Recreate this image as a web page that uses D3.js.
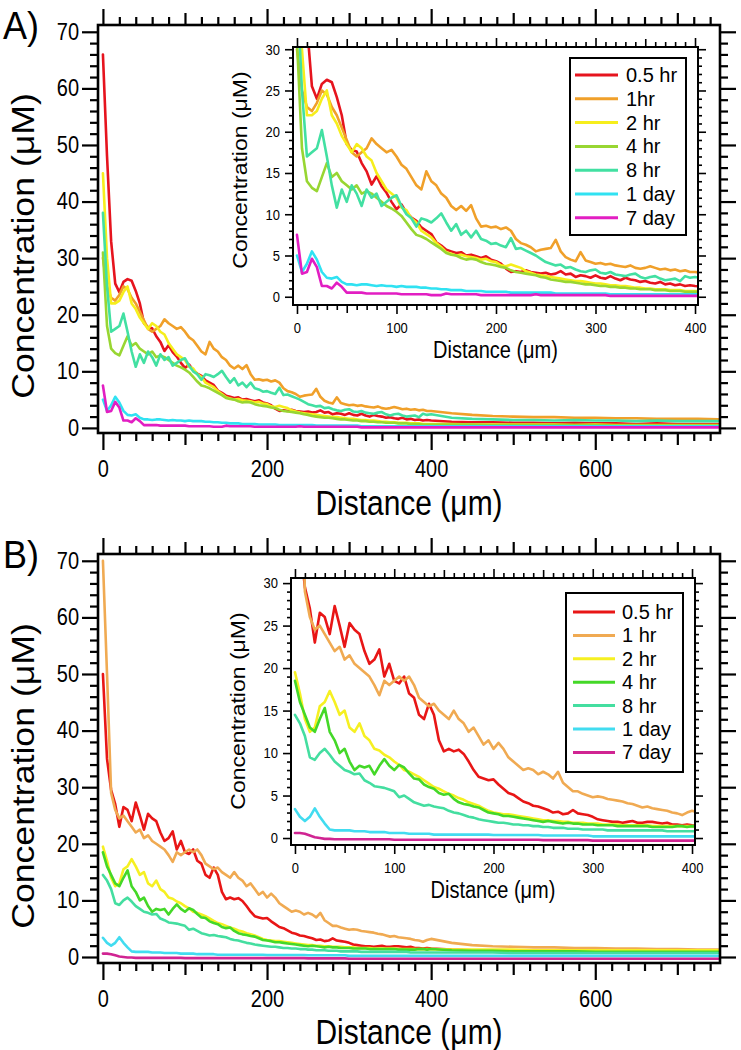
<!DOCTYPE html>
<html><head><meta charset="utf-8">
<script src="https://cdn.jsdelivr.net/npm/d3@7/dist/d3.min.js"></script>
<style>
body{margin:0;background:#fff}
svg{display:block}
</style>
</head><body>
<svg id="c" width="741" height="1050"></svg>
<script>
// ---------------- DATA ----------------
const distance = [
0,5,10,15,20,25,30,35,40,45,
50,55,60,65,70,75,80,85,90,95,
100,105,110,115,120,125,130,135,140,145,
150,155,160,165,170,175,180,185,190,195,
200,205,210,215,220,225,230,235,240,245,
250,255,260,265,270,275,280,285,290,295,
300,305,310,315,320,325,330,335,340,345,
350,355,360,365,370,375,380,385,390,395,
400,
425,450,475,500,525,550,575,600,625,650,675,700,725,750];

const namesA = ["0.5 hr","1hr","2 hr","4 hr","8 hr","1 day","7 day"];
const namesB = ["0.5 hr","1 hr","2 hr","4 hr","8 hr","1 day","7 day"];

const A_05hr = [
66,48,33,25.5,24,25.8,26.3,26,24.2,22,
18.5,17.8,17.6,16.2,15.2,13.6,14.6,13.4,12.6,11.5,
10.6,11.2,10.2,9.6,9.2,8.4,8.0,7.6,6.6,6.2,
5.7,5.5,5.3,5.4,5.0,5.1,4.9,4.7,4.9,4.5,
4.3,4.0,3.4,3.0,3.1,3.0,3.2,3.0,2.9,2.8,
2.9,2.7,2.8,3.1,2.7,2.8,2.4,2.6,2.5,2.3,
2.6,2.3,2.2,2.5,2.2,2.0,2.3,2.1,2.0,1.8,
1.9,1.7,1.6,1.8,1.5,1.6,1.4,1.5,1.3,1.4,
1.3,
1.1,1.0,1.0,0.9,0.9,0.8,0.9,0.8,0.8,0.7,0.8,0.7,0.7,0.7];
const A_1hr = [
30,25,23,22.5,23.5,25,24.5,23,22,20.5,
19,17.5,17,17.5,18,19.2,18.5,18,17.5,17.8,
17,16,15.5,14.5,13.5,13,15.2,14,13.5,12.5,
12,11,10.5,11,10.4,11.1,9.5,8.5,8.6,8.4,
8.5,8.2,8.4,8.0,7.0,6.5,6.3,6.0,5.5,5.7,
5.8,5.9,6.9,5.5,4.8,4.5,4.3,5.4,4.4,4.2,
4.0,4.1,3.9,4.0,3.8,3.7,3.6,3.8,3.5,3.4,
3.5,3.7,3.5,3.3,3.4,3.2,3.3,3.1,3.2,3.0,
3.0,
2.6,2.3,2.1,2.0,1.9,1.9,1.8,1.8,1.7,1.7,1.6,1.6,1.6,1.5];
const A_2hr = [
45,30,22,22,22.5,24,25,22,21,19.5,
18.5,17.5,18.5,18,17,16.5,15,14,13,12.5,
12,10.8,10.5,9.5,9.0,8.0,7.6,7.2,6.5,6.0,
5.4,5.2,5.0,5.1,4.9,4.8,4.7,4.5,4.6,4.3,
4.2,3.8,3.7,3.9,3.7,3.5,3.1,2.9,2.7,2.6,
2.5,2.4,2.3,2.2,2.1,2.0,1.9,1.9,1.8,1.7,
1.6,1.6,1.5,1.4,1.4,1.3,1.3,1.2,1.1,1.1,
1.0,1.0,0.9,0.9,0.9,0.8,0.8,0.8,0.7,0.7,
0.7,
0.7,0.6,0.6,0.6,0.6,0.6,0.5,0.6,0.5,0.5,0.5,0.5,0.5,0.5];
const A_4hr = [
31,18,14,13.2,12.8,14.5,16.2,14.5,15,14,
13.5,13,13.5,12.5,12.8,12.5,12,11.5,11,10.7,
10.3,9.8,9.0,8.2,7.5,7.3,7.0,6.6,6.2,5.8,
5.3,5.1,5.0,4.7,4.5,4.6,4.5,4.2,4.0,3.9,
3.8,3.6,3.5,3.2,3.0,2.9,2.8,2.7,2.6,2.4,
2.3,2.1,2.0,1.9,1.8,1.8,1.7,1.6,1.5,1.5,
1.4,1.3,1.3,1.2,1.2,1.1,1.1,1.0,1.0,0.9,
0.9,0.9,0.8,0.8,0.8,0.7,0.7,0.7,0.6,0.6,
0.6,
0.6,0.6,0.5,0.5,0.5,0.5,0.5,0.5,0.4,0.4,0.4,0.4,0.4,0.4];
const A_8hr = [
38,25,17,17.5,18,20.2,17,13.5,10.8,13,
11.5,13.5,12.5,11,13,12,12.5,11,11.5,12,
12.3,11,10,9.5,8.5,9.5,9.3,9.0,9.5,10.1,
9.0,8.0,8.8,7.5,8.0,7.2,8.0,7.0,6.8,6.4,
6.5,6.2,6.0,7.1,5.8,5.9,5.6,5.3,5.0,4.6,
4.2,4.0,3.8,3.9,3.5,3.6,3.3,3.1,3.0,3.2,
3.3,2.9,2.8,3.0,2.7,2.6,2.5,2.7,2.8,2.4,
2.2,2.4,2.5,2.2,2.0,2.1,2.2,1.9,2.5,2.3,
2.4,
1.8,1.6,1.5,1.4,1.4,1.3,1.4,1.3,1.3,1.2,1.3,1.2,1.2,1.2];
const A_1day = [
5,3,4,5.5,4.5,3,2.3,2.2,2.4,1.8,
1.5,1.5,1.4,1.5,1.5,1.4,1.3,1.4,1.3,1.3,
1.2,1.3,1.2,1.2,1.2,1.1,1.1,1.0,1.0,0.9,
0.9,0.8,0.8,0.8,0.7,0.7,0.7,0.7,0.6,0.6,
0.6,0.6,0.6,0.5,0.5,0.5,0.5,0.5,0.5,0.5,
0.5,0.5,0.4,0.4,0.4,0.4,0.4,0.4,0.4,0.4,
0.4,0.4,0.4,0.3,0.3,0.3,0.3,0.3,0.3,0.3,
0.3,0.3,0.3,0.3,0.3,0.3,0.3,0.3,0.3,0.3,
0.3,
0.3,0.3,0.3,0.3,0.3,0.3,0.3,0.3,0.3,0.3,0.3,0.3,0.3,0.3];
const A_7day = [
7.5,2.8,3.0,4.6,3.6,1.3,1.3,1.0,1.7,1.2,
0.5,0.5,0.5,0.5,0.4,0.4,0.4,0.4,0.4,0.4,
0.4,0.3,0.3,0.3,0.3,0.3,0.3,0.2,0.2,0.2,
0.4,0.3,0.3,0.3,0.3,0.3,0.3,0.2,0.2,0.2,
0.2,0.2,0.2,0.2,0.2,0.2,0.2,0.2,0.3,0.2,
0.2,0.2,0.2,0.2,0.2,0.2,0.2,0.2,0.2,0.2,
0.2,0.2,0.2,0.1,0.1,0.1,0.1,0.1,0.1,0.1,
0.1,0.1,0.1,0.1,0.1,0.1,0.1,0.1,0.1,0.1,
0.1,
0.1,0.1,0.1,0.1,0.1,0.1,0.1,0.1,0.1,0.1,0.1,0.1,0.1,0.1];

const B_05hr = [
50,35,29.5,27,23,26.5,26,24,27.3,25,
22.5,25.3,24.5,24,22,20.5,21,22.2,19,20.5,
18.5,18.2,19,17,16.5,14.5,14.0,15.8,14.5,11.5,
10.2,10.5,10.2,10.4,9.9,9.0,8.0,7.2,7.0,6.8,
6.9,6.3,5.8,5.3,5.1,4.7,4.3,4.1,3.8,3.7,
3.5,3.3,3.0,3.1,2.8,2.9,3.3,2.9,2.8,2.7,
2.5,2.2,2.1,2.0,1.9,1.9,1.8,1.9,2.0,1.8,
1.8,1.9,1.9,1.8,1.7,1.8,1.6,1.6,1.5,1.6,
1.5,
1.3,1.2,1.1,1.1,1.0,1.0,1.0,0.9,0.9,0.9,0.9,0.8,0.8,0.8];
const B_1hr = [
70,50,29,26,24.5,25,24,23,22,22.5,
21,21.5,20.5,20,19.5,19,18,16.8,18.5,18,
18.5,19,18.5,19,18,16.5,16,15.5,15.8,15,
14.5,14,15,14,13.5,12.5,13,12,11,11.5,
10.5,11.2,10.5,9.5,9,8.5,8,8.2,8,7.5,
7.8,7.5,7,7.8,6.5,6,5.5,5.5,5.2,5,
4.8,4.9,4.8,4.6,4.5,4.4,4.3,4.1,4,3.8,
3.6,3.7,3.5,3.4,3.3,3.2,3.0,2.9,2.7,3.0,
3.2,
2.5,2.1,1.9,1.8,1.7,1.7,1.6,1.6,1.5,1.5,1.4,1.4,1.3,1.3];
const B_2hr = [
19.5,17,14,12.5,13,15.5,16,17.3,16,14.5,
15,13,12.5,13.5,12,11.5,10.5,10.3,9.8,9.5,
9.0,8.6,8.0,7.8,7.5,7.2,6.8,6.4,6.0,5.8,
5.5,5.2,5.0,4.7,4.5,4.2,4.0,3.8,3.5,3.2,
3.0,2.9,2.8,2.8,2.7,2.6,2.5,2.4,2.3,2.2,
2.1,2.1,2.0,2.0,1.9,1.9,1.8,1.8,1.8,1.7,
1.7,1.7,1.6,1.6,1.6,1.6,1.5,1.5,1.5,1.5,
1.5,1.5,1.4,1.4,1.4,1.4,1.4,1.4,1.4,1.4,
1.4,
1.3,1.3,1.3,1.3,1.2,1.2,1.2,1.2,1.2,1.2,1.2,1.2,1.2,1.2];
const B_4hr = [
18.5,16,14.5,13,12.5,14,15.3,12.5,11.5,10,
10.5,9,8,8.5,8.3,8.5,7.5,8.5,9.3,8.5,
8.0,8.6,8.3,7.6,7.0,6.9,6.3,6.0,5.8,5.3,
5.1,5.2,4.6,4.2,4.0,3.9,3.7,3.6,3.3,3.0,
2.9,2.8,2.6,2.6,2.5,2.4,2.3,2.2,2.1,2.0,
1.9,2.0,1.9,1.8,1.7,1.8,1.7,1.7,1.6,1.6,
1.6,1.5,1.5,1.5,1.5,1.4,1.4,1.4,1.4,1.4,
1.4,1.4,1.3,1.3,1.3,1.3,1.3,1.4,1.4,1.3,
1.4,
1.2,1.1,1.1,1.0,1.0,1.0,1.0,0.9,0.9,0.9,0.9,0.9,0.9,0.9];
const B_8hr = [
14.5,13.5,12,9.5,9.2,10,10.5,9.8,9,8.5,
8.0,7.8,7.5,7.6,6.8,6.5,6.1,6.0,5.9,5.7,
5.5,4.8,5.0,4.6,4.2,4.0,3.8,3.9,3.7,3.6,
3.5,3.2,3.0,2.9,2.7,2.5,2.4,2.2,2.1,2.0,
1.9,1.8,1.8,1.7,1.6,1.6,1.5,1.5,1.4,1.4,
1.3,1.3,1.2,1.2,1.2,1.1,1.1,1.1,1.0,1.0,
1.0,1.0,1.0,0.9,0.9,0.9,0.9,0.9,0.9,0.9,
0.9,0.9,0.9,0.9,0.9,0.8,0.8,0.8,0.8,0.8,
0.8,
0.8,0.8,0.8,0.7,0.7,0.7,0.7,0.7,0.7,0.7,0.7,0.7,0.7,0.7];
const B_1day = [
3.4,2.5,2.0,2.5,3.5,2.5,1.7,1.0,0.9,0.9,
0.9,0.9,0.8,0.8,0.8,0.7,0.7,0.7,0.7,0.6,
0.6,0.6,0.6,0.5,0.5,0.5,0.5,0.5,0.4,0.4,
0.4,0.4,0.4,0.4,0.4,0.4,0.4,0.4,0.4,0.4,
0.35,0.35,0.35,0.35,0.35,0.35,0.35,0.35,0.35,0.35,
0.3,0.3,0.3,0.3,0.3,0.3,0.3,0.3,0.3,0.3,
0.2,0.2,0.2,0.2,0.2,0.2,0.2,0.2,0.2,0.2,
0.2,0.2,0.2,0.2,0.2,0.2,0.2,0.2,0.2,0.2,
0.2,
0.2,0.2,0.2,0.2,0.2,0.2,0.2,0.2,0.2,0.2,0.2,0.2,0.2,0.2];
const B_7day = [
0.6,0.6,0.5,0.3,0.1,0.0,-0.1,-0.1,-0.15,-0.15,
-0.15,-0.15,-0.15,-0.15,-0.15,-0.15,-0.15,-0.15,-0.15,-0.15,
-0.2,-0.2,-0.2,-0.2,-0.2,-0.2,-0.2,-0.2,-0.2,-0.2,
-0.2,-0.2,-0.2,-0.2,-0.2,-0.2,-0.2,-0.2,-0.2,-0.2,
-0.2,-0.2,-0.2,-0.2,-0.2,-0.2,-0.2,-0.2,-0.2,-0.2,
-0.25,-0.25,-0.25,-0.25,-0.25,-0.25,-0.25,-0.25,-0.25,-0.25,
-0.3,-0.3,-0.3,-0.3,-0.3,-0.3,-0.3,-0.3,-0.3,-0.3,
-0.3,-0.3,-0.3,-0.3,-0.3,-0.3,-0.3,-0.3,-0.3,-0.3,
-0.3,
-0.3,-0.3,-0.3,-0.3,-0.3,-0.3,-0.3,-0.3,-0.3,-0.3,-0.3,-0.3,-0.3,-0.3];

const mainYTickLabels = [0,10,20,30,40,50,60,70];
const mainXTickLabels = [0,200,400,600];
const insetYTickLabels = [0,5,10,15,20,25,30];
const insetXTickLabels = [0,100,200,300,400];

const colorsA = ["#e6141e","#f0a02a","#f6ee1c","#98d632","#42e0a2","#30e2f2","#e21ec2"];
const colorsB = ["#e81616","#f0aa52","#f6f022","#44d828","#44dea0","#42dcf0","#d02492"];

// ---------------- DRAWING ----------------
const FONT = "'Liberation Sans', Arial, Helvetica, sans-serif";
const SY = 1.15;   // the reference text is slightly taller than wide
const svg = d3.select("#c");
svg.append("rect").attr("width",741).attr("height",1050).attr("fill","#fff");

function stretch(sel, sy){
  const s = sy || SY;
  sel.each(function(){
    const t = d3.select(this);
    const x0 = +(t.attr("x") || 0), y0 = +(t.attr("y") || 0);
    t.attr("transform", `translate(${x0},${y0}) scale(1,${s}) translate(${-x0},${-y0})`);
  });
}

function tickSet(parent, axisFn, scale, vals, size, sw, transform, labels, fontSize, pad){
  const ax = axisFn(scale).tickValues(vals).tickSizeInner(size).tickSizeOuter(0)
    .tickPadding(pad || 3).tickFormat(labels ? d3.format("d") : "");
  const g = parent.append("g").attr("transform", transform).call(ax)
    .attr("font-family", FONT).attr("font-size", fontSize || 10);
  g.select(".domain").remove();
  g.selectAll(".tick line").attr("stroke","#000").attr("stroke-width",sw);
  g.selectAll(".tick text").attr("fill","#000");
  if (labels) stretch(g.selectAll(".tick text"));
  else g.selectAll(".tick text").remove();
  return g;
}

let clipId = 0;
function drawLines(g, x, y, seriesList, colors, L, T, R, B, sw){
  const id = "clip" + (clipId++);
  g.append("clipPath").attr("id", id).append("rect")
    .attr("x", L).attr("y", T).attr("width", R - L).attr("height", B - T);
  const line = d3.line().x((d,i)=>x(distance[i])).y(d=>y(d));
  const lg = g.append("g").attr("clip-path", `url(#${id})`);
  seriesList.forEach((s,k)=>{
    lg.append("path").attr("d", line(s)).attr("fill","none")
      .attr("stroke", colors[k]).attr("stroke-width", sw)
      .attr("stroke-linejoin","round").attr("stroke-linecap","round");
  });
}

function hText(g, x, y, size, txt, anchor, sy){
  const t = g.append("text").attr("x", x).attr("y", y)
    .attr("text-anchor", anchor || "middle").attr("font-family", FONT)
    .attr("font-size", size).attr("fill","#000").text(txt);
  stretch(t, sy);
  return t;
}
function vText(g, x, cy, size, txt){
  return g.append("text")
    .attr("transform", `translate(${x},${cy}) scale(1,${SY}) rotate(-90)`)
    .attr("text-anchor","middle").attr("font-family",FONT).attr("font-size",size)
    .attr("fill","#000").text(txt);
}

function drawPanel(cfg){
  const g = svg.append("g");
  const m = cfg.main;
  const x = d3.scaleLinear().domain(m.xDom).range([m.L, m.R]);
  const y = d3.scaleLinear().domain(m.yDom).range([m.B, m.T]);

  drawLines(g, x, y, cfg.series, cfg.colors, m.L, m.T, m.R, m.B, 2.6);

  // main x ticks
  const xMinor = d3.range(20, 741, 20).filter(v => v % 100 !== 0);
  const xMed = [100,300,500,700];
  tickSet(g, d3.axisBottom, x, xMinor, 8, 2.2, `translate(0,${m.B})`);
  tickSet(g, d3.axisBottom, x, xMed, 12, 2.2, `translate(0,${m.B})`);
  tickSet(g, d3.axisBottom, x, mainXTickLabels, 17, 2.2, `translate(0,${m.B})`, true, 20, 11);
  tickSet(g, d3.axisTop, x, xMinor, 8, 2.2, `translate(0,${m.T})`);
  tickSet(g, d3.axisTop, x, xMed, 12, 2.2, `translate(0,${m.T})`);
  tickSet(g, d3.axisTop, x, mainXTickLabels, 16, 2.2, `translate(0,${m.T})`);
  // main y ticks
  const yMinor = d3.range(0, 71, 2).filter(v => v % 10 !== 0);
  tickSet(g, d3.axisLeft, y, yMinor, 8, 2.2, `translate(${m.L},0)`);
  tickSet(g, d3.axisLeft, y, mainYTickLabels, 16, 2.2, `translate(${m.L},0)`, true, 20, 3);
  tickSet(g, d3.axisRight, y, yMinor, 8, 2.2, `translate(${m.R},0)`);
  tickSet(g, d3.axisRight, y, mainYTickLabels, 16, 2.2, `translate(${m.R},0)`);

  g.append("rect").attr("x", m.L).attr("y", m.T).attr("width", m.R - m.L).attr("height", m.B - m.T)
    .attr("fill","none").attr("stroke","#000").attr("stroke-width",2.6);

  // titles
  hText(g, (m.L + m.R)/2, m.xTitleY, 30, "Distance (\u03bcm)");
  vText(g, m.yTitleX, m.yTitleCY, 31, "Concentration (\u03bcM)");
  hText(g, 3, cfg.labelY, 36, cfg.label, "start", 1.08);

  // inset
  const n = cfg.inset;
  const xi = d3.scaleLinear().domain(n.xDom).range([n.L, n.R]);
  const yi = d3.scaleLinear().domain(n.yDom).range([n.B, n.T]);
  g.append("rect").attr("x", n.L).attr("y", n.T).attr("width", n.R - n.L).attr("height", n.B - n.T)
    .attr("fill","#fff");
  drawLines(g, xi, yi, cfg.series, cfg.colors, n.L, n.T, n.R, n.B, 2.6);

  const ixMinor = d3.range(10, 401, 10).filter(v => v % 50 !== 0);
  const ixMed = [50,150,250,350];
  tickSet(g, d3.axisBottom, xi, ixMinor, 5, 1.6, `translate(0,${n.B})`);
  tickSet(g, d3.axisBottom, xi, ixMed, 8, 1.6, `translate(0,${n.B})`);
  tickSet(g, d3.axisBottom, xi, insetXTickLabels, 9, 1.6, `translate(0,${n.B})`, true, 13, 8);
  tickSet(g, d3.axisTop, xi, ixMinor, 5, 1.6, `translate(0,${n.T})`);
  tickSet(g, d3.axisTop, xi, ixMed, 8, 1.6, `translate(0,${n.T})`);
  tickSet(g, d3.axisTop, xi, insetXTickLabels, 9, 1.6, `translate(0,${n.T})`);
  const iyMinor = d3.range(0, 31, 1).filter(v => v % 5 !== 0);
  tickSet(g, d3.axisLeft, yi, iyMinor, 4, 1.6, `translate(${n.L},0)`);
  tickSet(g, d3.axisLeft, yi, insetYTickLabels, 8, 1.6, `translate(${n.L},0)`, true, 13, 5);
  tickSet(g, d3.axisRight, yi, iyMinor, 4, 1.6, `translate(${n.R},0)`);
  tickSet(g, d3.axisRight, yi, insetYTickLabels, 8, 1.6, `translate(${n.R},0)`);

  g.append("rect").attr("x", n.L).attr("y", n.T).attr("width", n.R - n.L).attr("height", n.B - n.T)
    .attr("fill","none").attr("stroke","#000").attr("stroke-width",2);

  hText(g, (n.L + n.R)/2, n.xTitleY, 20, "Distance (\u03bcm)");
  vText(g, n.yTitleX, n.yTitleCY, 20, "Concentration (\u03bcM)");

  // legend
  const lgd = cfg.legend;
  g.append("rect").attr("x", lgd.x).attr("y", lgd.y).attr("width", lgd.w).attr("height", lgd.h)
    .attr("fill","#fff").attr("stroke","#000").attr("stroke-width",2);
  cfg.names.forEach((nm,k)=>{
    const yy = lgd.row0 + k * lgd.rowH;
    g.append("line").attr("x1", lgd.lx1).attr("x2", lgd.lx2).attr("y1", yy).attr("y2", yy)
      .attr("stroke", cfg.colors[k]).attr("stroke-width", 3);
    hText(g, lgd.tx, yy + 7, 20, nm, "start", 1.0);
  });
}

drawPanel({
  label: "A)", labelY: 39,
  series: [A_05hr, A_1hr, A_2hr, A_4hr, A_8hr, A_1day, A_7day],
  names: namesA, colors: colorsA,
  main: {L:98, R:720, T:25, B:433, xDom:[-6, 752], yDom:[-0.9, 71.2],
         xTitleY: 515, yTitleX: 34, yTitleCY: 246},
  inset: {L:293, R:698, T:47, B:305, xDom:[-4, 403], yDom:[-1.0, 30.27],
          xTitleY: 358, yTitleX: 247, yTitleCY: 170},
  legend: {x:570, y:58, w:116, h:177, row0:75, rowH:23.8, lx1:575, lx2:618, tx:626}
});
drawPanel({
  label: "B)", labelY: 568,
  series: [B_05hr, B_1hr, B_2hr, B_4hr, B_8hr, B_1day, B_7day],
  names: namesB, colors: colorsB,
  main: {L:98, R:720, T:554, B:963, xDom:[-6, 752], yDom:[-1.06, 71.2],
         xTitleY: 1044, yTitleX: 34, yTitleCY: 776},
  inset: {L:291, R:695, T:578, B:845, xDom:[-4, 403], yDom:[-0.82, 30.6],
          xTitleY: 898, yTitleX: 245, yTitleCY: 711},
  legend: {x:566, y:593, w:117, h:179, row0:612, rowH:23.4, lx1:573, lx2:615, tx:622}
});
</script>
</body></html>
